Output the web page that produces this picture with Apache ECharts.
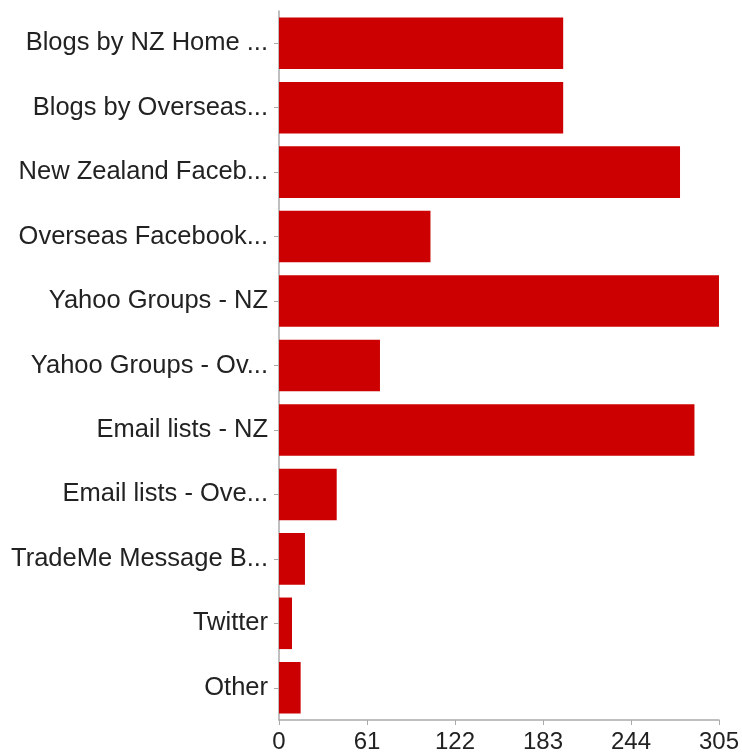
<!DOCTYPE html>
<html>
<head>
<meta charset="utf-8">
<script src="https://cdn.jsdelivr.net/npm/echarts@6/dist/echarts.min.js"></script>
<style>html,body{margin:0;padding:0;background:#fff;}#c{width:742px;height:754px;}</style>
</head>
<body>
<div id="c"></div>
<script>
const categories = ["Blogs by NZ Home ...", "Blogs by Overseas...", "New Zealand Faceb...", "Overseas Facebook...", "Yahoo Groups - NZ", "Yahoo Groups - Ov...", "Email lists - NZ", "Email lists - Ove...", "TradeMe Message B...", "Twitter", "Other"];
const values = [197, 197, 278, 105, 305, 70, 288, 40, 18, 9, 15];
const xTicks = [0, 61, 122, 183, 244, 305];

const chart = echarts.init(document.getElementById('c'), null, {renderer: 'canvas'});
chart.setOption({
  animation: false,
  backgroundColor: '#ffffff',
  grid: {left: 279, right: 23, top: 11, bottom: 34, containLabel: false},
  xAxis: {
    type: 'value',
    min: 0, max: 305, interval: 61,
    axisLine: {show: true, lineStyle: {color: '#aaaaaa', width: 1.5}},
    axisTick: {show: true, length: 5, lineStyle: {color: '#aaaaaa'}},
    splitLine: {show: false},
    axisLabel: {color: '#222222', fontSize: 24, fontFamily: 'Liberation Sans, Arial, sans-serif', margin: 10,
      formatter: v => xTicks.includes(v) ? String(v) : ''}
  },
  yAxis: {
    type: 'category',
    data: categories,
    inverse: true,
    axisLine: {show: true, lineStyle: {color: '#aaaaaa', width: 1.5}},
    axisTick: {show: true, alignWithLabel: true, length: 5, lineStyle: {color: '#aaaaaa'}},
    axisLabel: {color: '#222222', fontSize: 25.5, fontFamily: 'Liberation Sans, Arial, sans-serif', margin: 11}
  },
  series: [{
    type: 'bar',
    data: values,
    barCategoryGap: '20%',
    itemStyle: {color: '#cc0000'}
  }]
});
</script>
</body>
</html>
